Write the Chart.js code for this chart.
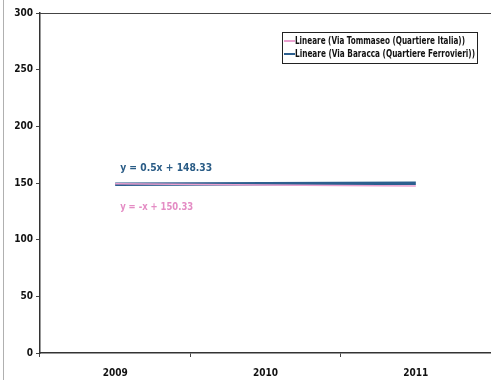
<!DOCTYPE html>
<html>
<head>
<meta charset="utf-8">
<script src="https://cdn.jsdelivr.net/npm/chart.js"></script>
<style>
  html, body { margin: 0; padding: 0; background: #fff; }
  #wrap { width: 491px; height: 380px; position: relative; }
</style>
</head>
<body>
<div id="wrap"><canvas id="chart" width="491" height="380"></canvas></div>
<script>
// categories and trend values
const years = ['2009', '2010', '2011'];
const tommaseoTrend = [149.33, 148.33, 147.33];   // y = -x + 150.33
const baraccaTrend = [148.83, 149.33, 149.83];    // y = 0.5x + 148.33
const yTicks = [0, 50, 100, 150, 200, 250, 300];

const seriesLabels = [
    'Lineare (Via Tommaseo (Quartiere Italia))',
    'Lineare (Via Baracca (Quartiere Ferrovieri))'
];
const equations = ['y = -x + 150.33', 'y = 0.5x + 148.33'];

const pink = '#eaa0cf';
const blue = '#2c5f8f';
const font = '"DejaVu Sans Condensed", "Liberation Sans Narrow", "Liberation Sans", sans-serif';

// draw text squeezed horizontally to a given width (narrow Excel look)
function squeezeText(ctx, text, x, y, maxW) {
    const w = ctx.measureText(text).width;
    const k = Math.min(1, maxW / w);
    ctx.save();
    ctx.translate(x, y);
    ctx.scale(k, 1);
    ctx.fillText(text, 0, 0);
    ctx.restore();
}

// frame, top border, equations and legend box
const extras = {
    id: 'extras',
    afterDatasetsDraw(chart) {
        const ctx = chart.ctx;
        const area = chart.chartArea;
        ctx.save();

        // outer frame (left edge visible)
        ctx.strokeStyle = '#b0b0b0';
        ctx.lineWidth = 1;
        ctx.beginPath();
        ctx.moveTo(3.5, 0);
        ctx.lineTo(3.5, 380);
        ctx.stroke();

        // top border of plot area
        ctx.strokeStyle = '#444';
        ctx.lineWidth = 1;
        ctx.beginPath();
        ctx.moveTo(area.left, area.top + 0.5);
        ctx.lineTo(area.right, area.top + 0.5);
        ctx.stroke();

        // equations next to the first point of the blue trend
        const p0 = chart.getDatasetMeta(1).data[0];
        ctx.font = 'bold 11px ' + font;
        ctx.textBaseline = 'middle';
        ctx.textAlign = 'left';
        ctx.fillStyle = '#2a5c86';
        squeezeText(ctx, equations[1], p0.x + 5, p0.y - 16, 92);
        ctx.fillStyle = '#e48cc4';
        squeezeText(ctx, equations[0], p0.x + 5, p0.y + 23, 73);

        // legend
        const lx = 282, ly = 32, lw = 195, lh = 31;
        ctx.fillStyle = '#fff';
        ctx.fillRect(lx, ly, lw, lh);
        ctx.strokeStyle = '#222';
        ctx.lineWidth = 1;
        ctx.strokeRect(lx + 0.5, ly + 0.5, lw, lh);
        ctx.font = 'bold 10px ' + font;
        const colors = [pink, blue];
        const widths = [170, 180];
        seriesLabels.forEach((lab, i) => {
            const yy = ly + 9 + i * 13;
            ctx.strokeStyle = colors[i];
            ctx.lineWidth = 2;
            ctx.beginPath();
            ctx.moveTo(lx + 2, yy);
            ctx.lineTo(lx + 13, yy);
            ctx.stroke();
            ctx.fillStyle = '#111';
            squeezeText(ctx, lab, lx + 13, yy, widths[i]);
        });
        ctx.restore();
    }
};

new Chart(document.getElementById('chart'), {
    type: 'line',
    data: {
        labels: years,
        datasets: [
            {
                label: seriesLabels[0],
                data: tommaseoTrend,
                borderColor: pink,
                borderWidth: 1.5,
                pointRadius: 0,
                tension: 0
            },
            {
                label: seriesLabels[1],
                data: baraccaTrend,
                borderColor: blue,
                borderWidth: 3.5,
                pointRadius: 0,
                tension: 0
            }
        ]
    },
    options: {
        responsive: false,
        animation: false,
        layout: { padding: { top: 13, right: 0, bottom: 0, left: 0 } },
        plugins: {
            legend: { display: false },
            tooltip: { enabled: false }
        },
        scales: {
            x: {
                offset: true,
                grid: {
                    offset: true,
                    drawOnChartArea: false,
                    drawTicks: true,
                    tickLength: 4,
                    color: '#444'
                },
                border: { color: '#333', width: 1.5 },
                ticks: {
                    color: '#111',
                    font: { family: font, size: 10, weight: 'bold' },
                    padding: 10,
                    maxRotation: 0
                },
                afterFit(axis) { axis.height = 27; }
            },
            y: {
                min: 0,
                max: 300,
                afterBuildTicks(axis) { axis.ticks = yTicks.map(v => ({ value: v })); },
                grid: {
                    drawOnChartArea: false,
                    drawTicks: true,
                    tickLength: 4,
                    color: '#444'
                },
                border: { color: '#333', width: 1.5 },
                ticks: {
                    color: '#111',
                    font: { family: font, size: 10, weight: 'bold' },
                    padding: 3
                },
                afterFit(axis) { axis.width = 40; }
            }
        }
    },
    plugins: [extras]
});
</script>
</body>
</html>
